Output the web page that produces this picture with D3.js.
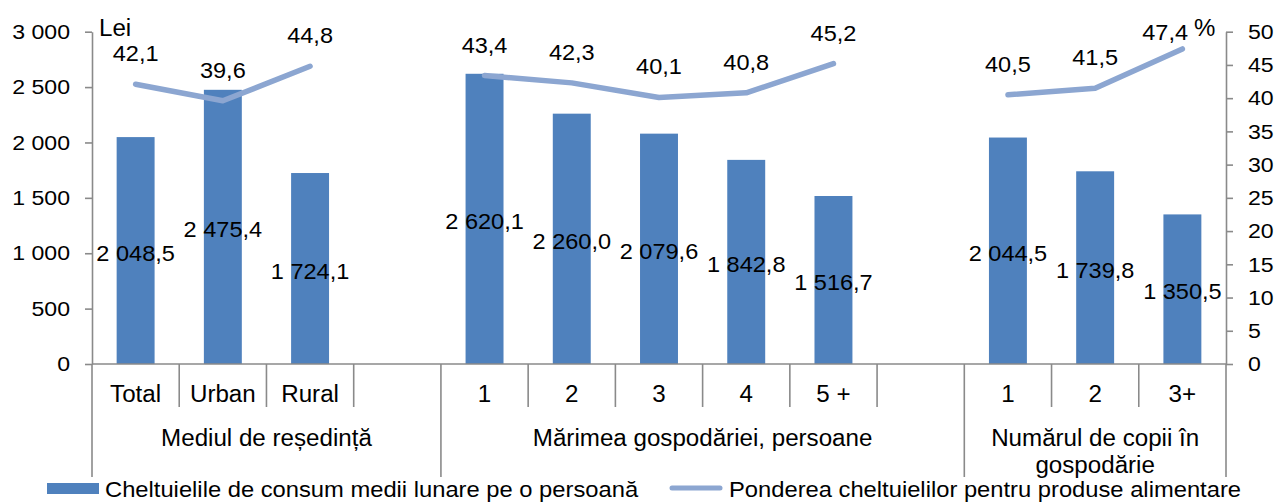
<!DOCTYPE html>
<html>
<head>
<meta charset="utf-8">
<script src="https://cdn.jsdelivr.net/npm/d3@7"></script>
<title>Cheltuielile de consum</title>
<style>
  body { margin: 0; background: #fff; }
  svg { display: block; font-family: "Liberation Sans", Arial, sans-serif; }
</style>
</head>
<body>
<svg id="chart" width="1279" height="502"></svg>
<script>
// values
let categories = ["Total", "Urban", "Rural", "", "1", "2", "3", "4", "5 +", "", "1", "2", "3+"];
let spending = [2048.5, 2475.4, 1724.1, null, 2620.1, 2260.0, 2079.6, 1842.8, 1516.7, null, 2044.5, 1739.8, 1350.5];
let foodShare = [42.1, 39.6, 44.8, null, 43.4, 42.3, 40.1, 40.8, 45.2, null, 40.5, 41.5, 47.4];
let groupLabels = [["Mediul de reședință"], ["Mărimea gospodăriei, persoane"], ["Numărul de copii în", "gospodărie"]];
let groupSpans = [4, 6, 3];
let leftTicks = [0, 500, 1000, 1500, 2000, 2500, 3000];
let rightTicks = [0, 5, 10, 15, 20, 25, 30, 35, 40, 45, 50];
let legendNames = ["Cheltuielile de consum medii lunare pe o persoană", "Ponderea cheltuielilor pentru produse alimentare"];

let barColor = "#4f81bd";
let lineColor = "#8ca6d1";
let axisColor = "#8a8a8a";

let locale = d3.formatLocale({decimal: ",", thousands: " ", grouping: [3], currency: ["", ""]});
let fmtTick = locale.format(",");
let fmtVal = locale.format(",.1f");

let svg = d3.select("#chart");

let plotLeft = 92, plotRight = 1226, plotTop = 31.7, plotBottom = 364;

let x = d3.scaleBand().domain(d3.range(categories.length)).range([plotLeft, plotRight]);
let yL = d3.scaleLinear().domain([0, 3000]).range([plotBottom, plotTop]);
let yR = d3.scaleLinear().domain([0, 50]).range([plotBottom, plotTop]);
let cx = i => x(i) + x.bandwidth() / 2;
let barW = x.bandwidth() * 0.435;

// text with a slight horizontal stretch, like the original export
function label(str, px, py, size, sx, anchor) {
  return svg.append("text")
    .attr("transform", "translate(" + px + "," + py + ") scale(" + sx + ",1)")
    .attr("text-anchor", anchor || "middle")
    .attr("font-size", size)
    .attr("fill", "#000")
    .text(str);
}

// bars
svg.append("g").selectAll("rect")
  .data(spending.map((v, i) => ({v: v, i: i})).filter(d => d.v != null))
  .enter().append("rect")
    .attr("x", d => cx(d.i) - barW / 2)
    .attr("y", d => yL(d.v))
    .attr("width", barW)
    .attr("height", d => yL(0) - yL(d.v))
    .attr("fill", barColor);

// axes
function styleAxis(g, dx, anchor) {
  g.select(".domain").attr("stroke", axisColor).attr("stroke-width", 1.6);
  g.selectAll(".tick line").attr("stroke", axisColor).attr("stroke-width", 1.6);
  g.selectAll(".tick text")
    .attr("font-size", 21)
    .attr("font-family", "Liberation Sans, Arial, sans-serif")
    .attr("fill", "#000")
    .attr("text-anchor", anchor)
    .attr("transform", "scale(1.1,1)")
    .attr("x", dx / 1.1);
}

let axL = svg.append("g").attr("transform", "translate(" + plotLeft + ",0)")
  .call(d3.axisLeft(yL).tickValues(leftTicks).tickFormat(fmtTick).tickSize(7).tickSizeOuter(0));
styleAxis(axL, -22, "end");

let axR = svg.append("g").attr("transform", "translate(" + plotRight + ",0)")
  .call(d3.axisRight(yR).tickValues(rightTicks).tickFormat(d3.format("d")).tickSize(7).tickSizeOuter(0));
styleAxis(axR, 22, "start");

// category axis line and separators
svg.append("line")
  .attr("x1", plotLeft).attr("x2", plotRight).attr("y1", plotBottom).attr("y2", plotBottom)
  .attr("stroke", axisColor).attr("stroke-width", 1.6);

let groupEdges = [0];
groupSpans.forEach(s => groupEdges.push(groupEdges[groupEdges.length - 1] + s));

let edgeX = i => i < categories.length ? x(i) : plotRight;
svg.append("g").selectAll("line")
  .data(d3.range(categories.length + 1)).enter().append("line")
    .attr("x1", edgeX)
    .attr("x2", edgeX)
    .attr("y1", plotBottom)
    .attr("y2", i => groupEdges.includes(i) ? 477 : 407)
    .attr("stroke", axisColor).attr("stroke-width", 1.6);

categories.forEach((c, i) => {
  if (c) label(c, cx(i), 402, 23, 1.05);
});

groupLabels.forEach((lines, g) => {
  let mid = (edgeX(groupEdges[g]) + edgeX(groupEdges[g + 1])) / 2;
  lines.forEach((t, k) => label(t, mid, 446 + k * 26.5, 23, 1.05));
});

// bar value labels, centred in the bar
spending.forEach((v, i) => {
  if (v == null) return;
  label(fmtVal(v), cx(i), (yL(v) + yL(0)) / 2 + 10, 22, 1.07);
});

// line series, broken at the empty slots
let line = d3.line()
  .defined(d => d.v != null)
  .x(d => cx(d.i))
  .y(d => yR(d.v));

svg.append("path")
  .datum(foodShare.map((v, i) => ({v: v, i: i})))
  .attr("d", line)
  .attr("fill", "none")
  .attr("stroke", lineColor)
  .attr("stroke-width", 5.5)
  .attr("stroke-linecap", "round")
  .attr("stroke-linejoin", "round");

// unit labels
label("Lei", 99, 36, 23, 1.05, "start");
label("%", 1194, 36, 24, 1.0, "start");
let pctLeft = 1194;

// line value labels above points, kept inside the plot
foodShare.forEach((v, i) => {
  if (v == null) return;
  let by = Math.max(yR(v) - 23, 40);
  let t = label(fmtVal(v), cx(i), by, 22, 1.07);
  let w = t.node().getComputedTextLength() * 1.07;
  let over = cx(i) + w / 2 - (pctLeft - 6);
  if (over > 0) t.attr("transform", "translate(" + (cx(i) - over) + "," + by + ") scale(1.07,1)");
});

// legend
svg.append("rect").attr("x", 47).attr("y", 483).attr("width", 52).attr("height", 11).attr("fill", barColor);
label(legendNames[0], 105, 497, 22, 1.08, "start");
svg.append("line").attr("x1", 672).attr("x2", 720).attr("y1", 488).attr("y2", 488)
  .attr("stroke", lineColor).attr("stroke-width", 5).attr("stroke-linecap", "round");
label(legendNames[1], 729, 497, 22, 1.08, "start");
</script>
</body>
</html>
